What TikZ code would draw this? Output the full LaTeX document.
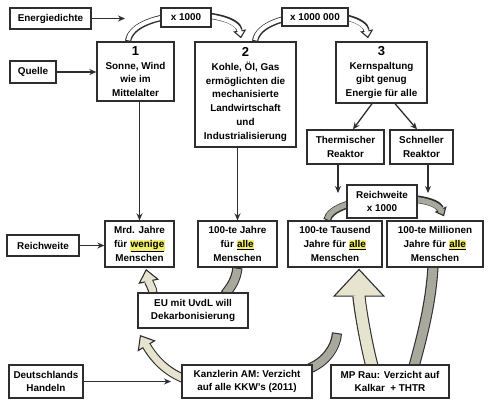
\documentclass[tikz,border=0pt]{standalone}
\usepackage{fontspec}
\setmainfont{Liberation Sans}
\usetikzlibrary{calc,arrows.meta}
\pgfdeclarelayer{background}
\pgfsetlayers{background,main}
\definecolor{hly}{HTML}{F2EE6E}
\definecolor{beige}{HTML}{E6E4CF}
\definecolor{grayb}{HTML}{A8A89C}
\definecolor{edge}{HTML}{2E2E2E}
\newcommand{\hlw}[1]{{\setlength{\fboxsep}{0.6pt}\colorbox{hly}{\underline{#1}}}}
\newcommand{\bignum}[1]{{\fontsize{13}{13.8}\selectfont #1}}
% block arrow: fill, inner width, head full width, head length, path (ends at the tip)
\newcommand{\blockarr}[5]{%
  \draw[line width=#2pt+2.2pt, edge, shorten >=#4pt] #5;
  \draw[line width=1.1pt, edge, -{Triangle[length=#4pt, width=#3pt, fill=#1, line join=miter]}] #5;
  \draw[line width=#2pt, #1, shorten <=1.1pt, shorten >=#4pt-1.6pt] #5;
}
% block band without head: fill, inner width, path
\newcommand{\blocktail}[3]{%
  \draw[line width=#2pt+2.2pt, edge] #3;
  \draw[line width=#2pt, #1, shorten <=1.1pt, shorten >=1.1pt] #3;
}
\tikzset{
  box/.style={draw=edge, line width=1.3pt, fill=white, rectangle, align=center, inner sep=0pt,
    font=\fontsize{9.9}{13.8}\selectfont\bfseries},
  arr/.style={-{Stealth[length=7pt,width=6pt]}, line width=1.3pt, draw=edge},
}
\begin{document}
\begin{tikzpicture}[x=1pt,y=-1pt]
\useasboundingbox (0,0) rectangle (493,405);

% nodes
\node[box, minimum width=81pt, minimum height=21pt] (ener) at (50.5,18.5) {Energiedichte};
\node[box, minimum width=50pt, minimum height=19pt] (x1) at (186,17.5) {x 1000};
\node[box, minimum width=66pt, minimum height=18pt] (x2) at (315,17) {x 1000 000};
\node[box, minimum width=46pt, minimum height=22pt] (quelle) at (33,72) {Quelle};
\node[box, minimum width=77pt, minimum height=59pt] (b1) at (135.5,71.5) {\bignum{1}\\Sonne, Wind\\wie im\\Mittelalter};
\node[box, minimum width=101pt, minimum height=105pt] (b2) at (245.5,94.5) {\bignum{2}\\Kohle, Öl, Gas\\ermöglichten die\\mechanisierte\\Landwirtschaft\\und\\Industrialisierung};
\node[box, minimum width=91pt, minimum height=61pt] (b3) at (381.5,72.5) {\bignum{3}\\Kernspaltung\\gibt genug\\Energie für alle};
\node[box, minimum width=77pt, minimum height=34pt] (therm) at (345.5,147) {Thermischer\\Reaktor};
\node[box, minimum width=63pt, minimum height=34pt] (schnell) at (421.5,147) {Schneller\\Reaktor};
\node[box, minimum width=70pt, minimum height=33pt] (rw) at (382,201.5) {Reichweite\\x 1000};
\node[box, minimum width=72pt, minimum height=21pt] (rwl) at (43,245.5) {Reichweite};
\node[box, minimum width=69pt, minimum height=46pt] (mrd) at (139.5,244) {Mrd. Jahre\\für \hlw{wenige}\\Menschen};
\node[box, minimum width=79pt, minimum height=46pt] (hj) at (237.5,244) {100-te Jahre\\für \hlw{alle}\\Menschen};
\node[box, minimum width=94pt, minimum height=46pt] (taus) at (335,244) {100-te Tausend\\Jahre für \hlw{alle}\\Menschen};
\node[box, minimum width=96pt, minimum height=46pt] (mill) at (435,244) {100-te Millionen\\Jahre für \hlw{alle}\\Menschen};
\node[box, minimum width=110pt, minimum height=35pt] (eu) at (193,310.5) {EU mit UvdL will\\Dekarbonisierung};
\node[box, minimum width=74pt, minimum height=33pt] (deut) at (46,381.5) {Deutschlands\\Handeln};
\node[box, minimum width=130pt, minimum height=33pt] (kanz) at (247,381.5) {Kanzlerin AM: Verzicht\\auf alle KKW's (2011)};
\node[box, minimum width=118pt, minimum height=33pt] (rau) at (390,381.5) {MP Rau: Verzicht auf\\Kalkar~~+ THTR};

% free ends
\coordinate (enerend) at (125,18.5);
\coordinate (deutend) at (171,381.5);
\coordinate (thermend) at (338,193);
\coordinate (schnellend) at (428,193);
\coordinate (d1tip) at (140,335);
\coordinate (d2tip) at (146,269);
\coordinate (d4end) at (337,333);

% plain arrows
\draw[arr] (ener.east) -- (enerend);
\draw[arr] (quelle.east) -- (quelle.east -| b1.west);
\draw[arr] (mrd.north |- b1.south) -- (mrd.north);
\draw[arr] (hj.north |- b2.south) -- (hj.north);
\draw[arr] ($(b3.south)+(-9.5,0)$) -- ($(therm.north)+(7.5,0)$);
\draw[arr] ($(b3.south)+(13.5,0)$) -- ($(schnell.north)+(-4.5,0)$);
\draw[arr] (thermend |- therm.south) -- (thermend);
\draw[arr] (schnellend |- schnell.south) -- (schnellend);
\draw[arr] (rwl.east) -- (rwl.east -| mrd.west);
\draw[arr] (deut.east) -- (deutend);

% block arrows behind the boxes
\begin{pgfonlayer}{background}
\fill[white] (0,0) rectangle (493,405);
\blockarr{white}{4}{13}{8}{($(b1.north)+(-7.5,0)$) .. controls (133,8) and (236,8) .. ($(b2.north)+(-4.5,-3)$)}
\blockarr{white}{4}{13}{8}{($(b2.north)+(9.5,0)$) .. controls (260,8) and (363,8) .. ($(b3.north)+(-13.5,-3)$)}
\blockarr{grayb}{5.5}{13}{8}{($(taus.north)+(-8,0)$) .. controls (332,195) and (432,191) .. ($(mill.north)+(9,-4)$)}
\blockarr{beige}{7}{21}{13}{($(kanz.west)+(2,-3)$) .. controls (166,371) and (155,360) .. (d1tip)}
\blockarr{beige}{7}{21}{13}{($(eu.north)+(-40,1)$) .. controls (153,289) and (149,283) .. (d2tip)}
\blocktail{grayb}{8}{(hj.south) .. controls (236,280) and (231,287) .. ($(eu.north)+(32,2)$)}
\blocktail{grayb}{8}{($(kanz.north east)+(-3,4)$) .. controls (325,362) and (336,348) .. (d4end)}
\blockarr{beige}{11}{52}{28}{($(rau.north)+(-18,2)$) .. controls (364,335) and (359,300) .. ($(taus.south)+(24,1)$)}
\blocktail{grayb}{9}{($(rau.north)+(24,2)$) .. controls (424,330) and (431,300) .. ($(mill.south)+(-2,-1)$)}
\end{pgfonlayer}
\end{tikzpicture}
\end{document}
